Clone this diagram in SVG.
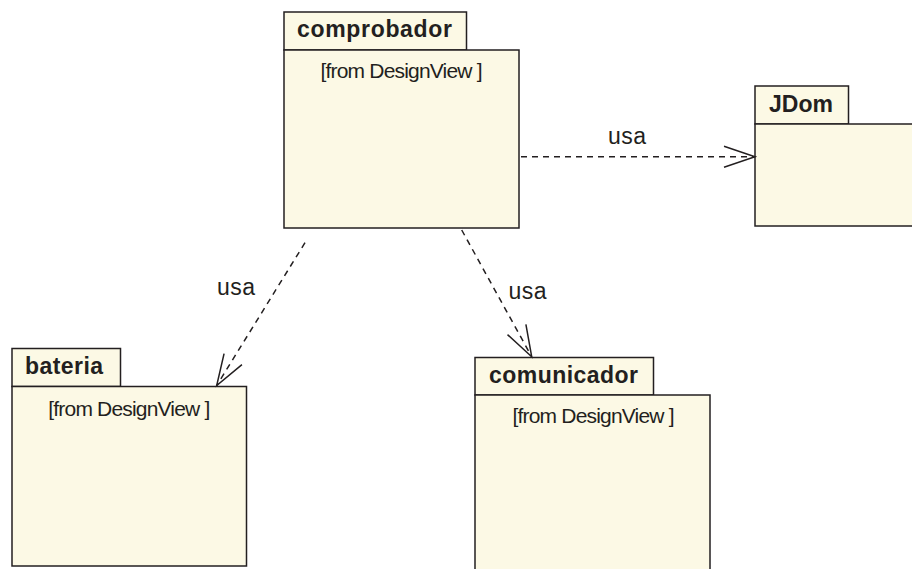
<svg xmlns="http://www.w3.org/2000/svg" width="912" height="569" viewBox="0 0 912 569">
<style>
.box{fill:#fcf9e5;stroke:#231f20;stroke-width:1.5}
.title{font-family:"Liberation Sans",Arial,sans-serif;font-weight:bold;font-size:23px;fill:#231f20}
.from{font-family:"Liberation Sans",Arial,sans-serif;font-size:21px;fill:#231f20;text-anchor:middle}
.lbl{font-family:"Liberation Sans",Arial,sans-serif;font-size:23px;fill:#231f20}
.dep{fill:none;stroke:#231f20;stroke-width:1.5;stroke-dasharray:6 5}
</style>
<defs>
<marker id="open" markerUnits="userSpaceOnUse" viewBox="-33 -12 35 24" markerWidth="35" markerHeight="24" refX="0" refY="0" orient="auto" overflow="visible">
<path d="M-31,-10.5 L0,0 L-31,10.5" fill="none" stroke="#231f20" stroke-width="1.5"/>
</marker>
</defs>
<rect width="912" height="569" fill="#ffffff"/>
<g id="comprobador">
<rect class="box" x="284" y="12" width="182.5" height="38"/>
<rect class="box" x="284" y="50" width="235" height="178"/>
<text class="title" x="297" y="37" textLength="155">comprobador</text>
<text class="from" x="401.5" y="78" textLength="162">[from DesignView ]</text>
</g>
<g id="JDom">
<rect class="box" x="755" y="86" width="93.5" height="38"/>
<rect class="box" x="755" y="124" width="170" height="102"/>
<text class="title" x="769" y="112" textLength="64">JDom</text>
</g>
<g id="bateria">
<rect class="box" x="12" y="348.5" width="108.5" height="38"/>
<rect class="box" x="12" y="386.5" width="234.5" height="179.5"/>
<text class="title" x="25" y="374" textLength="78">bateria</text>
<text class="from" x="129.3" y="416" textLength="162">[from DesignView ]</text>
</g>
<g id="comunicador">
<rect class="box" x="475" y="357.5" width="178.5" height="37.5"/>
<rect class="box" x="475" y="395" width="235" height="190"/>
<text class="title" x="489" y="383" textLength="149">comunicador</text>
<text class="from" x="593.5" y="423.3" textLength="162">[from DesignView ]</text>
</g>
<g id="connectors">
<path class="dep" d="M521,156.7 L755,156.7" marker-end="url(#open)"/>
<text class="lbl" x="608" y="144" textLength="38">usa</text>
<path class="dep" d="M305,242.7 L216.7,385.5" marker-end="url(#open)"/>
<text class="lbl" x="217" y="295" textLength="38">usa</text>
<path class="dep" d="M461.7,230 L531.7,356.7" marker-end="url(#open)"/>
<text class="lbl" x="508.5" y="299" textLength="38">usa</text>
</g>
</svg>
